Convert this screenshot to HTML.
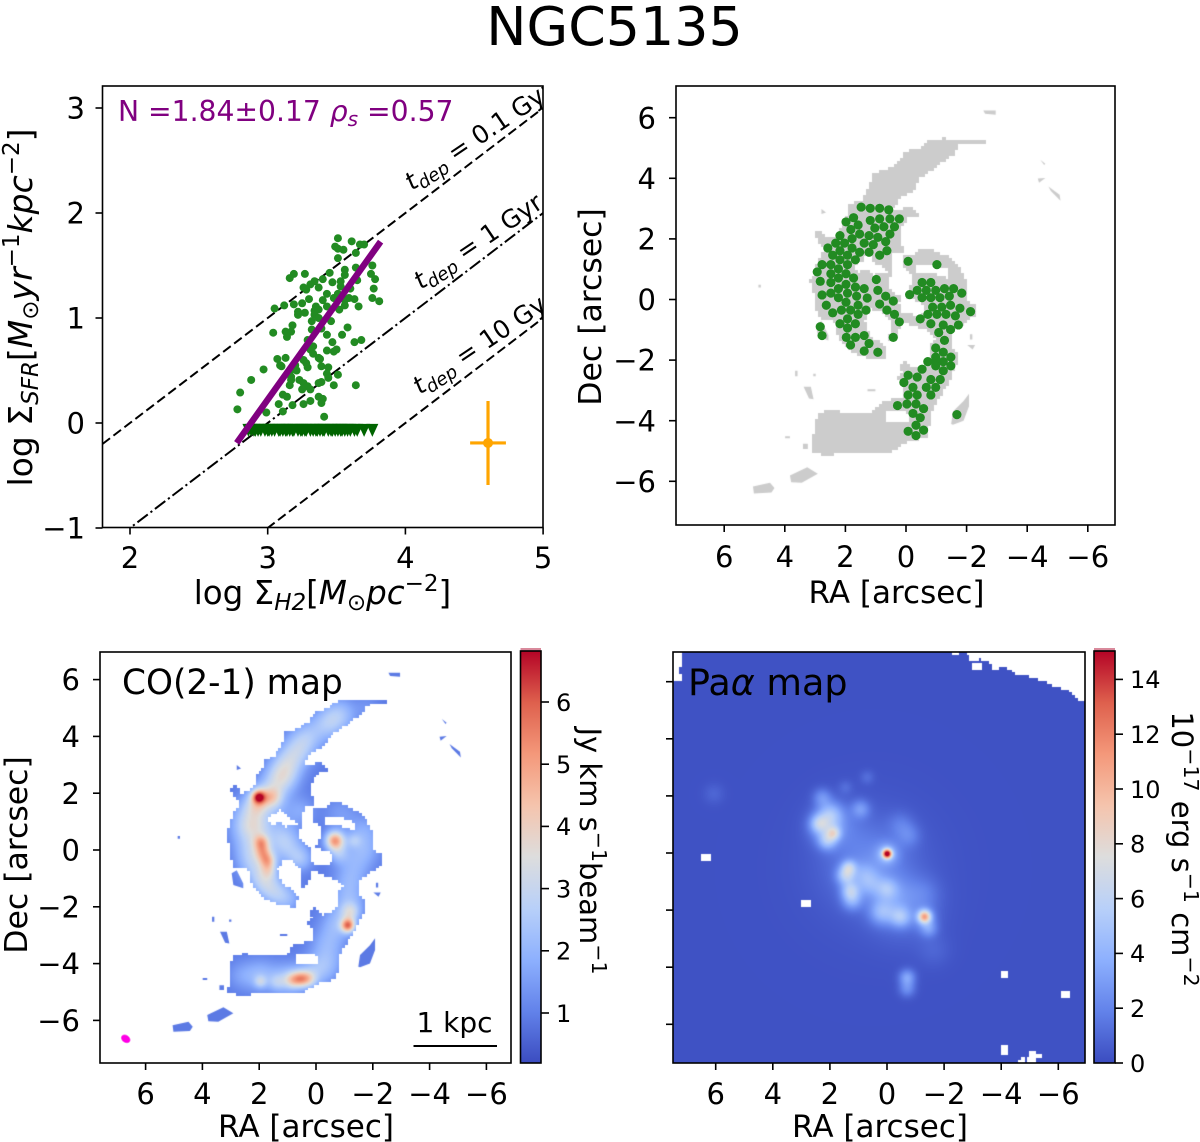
<!DOCTYPE html>
<html lang="en">
<head>
<meta charset="utf-8">
<title>NGC5135</title>
<style>
html,body{margin:0;padding:0;background:#fff}
#page{position:relative;width:1200px;height:1142px;overflow:hidden;background:#fff;font-family:"DejaVu Sans","Liberation Sans",sans-serif}
canvas{position:absolute;display:block}
svg{position:absolute;left:0;top:0}
text{font-family:"DejaVu Sans","Liberation Sans",sans-serif;fill:#000}
</style>
</head>
<body>
<div id="page">
<canvas id="maskCanvas" style="left:676px;top:86px" width="439" height="439"></canvas>
<canvas id="coCanvas" style="left:100px;top:652px" width="411" height="411"></canvas>
<canvas id="paCanvas" style="left:673px;top:652px" width="412" height="411"></canvas>
<svg id="fig" width="1200" height="1142" viewBox="0 0 1200 1142">
<defs>
<clipPath id="clipKS"><rect x="102.5" y="86" width="440.5" height="441.5"/></clipPath>
<linearGradient id="cbGrad1" x1="0" y1="1" x2="0" y2="0"></linearGradient>
</defs>
<text x="614.5" y="45" font-size="53.8" text-anchor="middle">NGC5135</text>
<g id="ksLines" clip-path="url(#clipKS)"></g>
<g id="ksLabels" clip-path="url(#clipKS)" font-size="25">
<text transform="translate(412,191) rotate(-34)"><tspan font-style="italic">t</tspan><tspan dy="5" font-size="18" font-style="italic">dep</tspan><tspan dy="-5"> = 0.1 Gyr</tspan></text>
<text transform="translate(421,290) rotate(-34)"><tspan font-style="italic">t</tspan><tspan dy="5" font-size="18" font-style="italic">dep</tspan><tspan dy="-5"> = 1 Gyr</tspan></text>
<text transform="translate(420,395) rotate(-34)"><tspan font-style="italic">t</tspan><tspan dy="5" font-size="18" font-style="italic">dep</tspan><tspan dy="-5"> = 10 Gyr</tspan></text>
</g>
<g id="ksPoints"></g>
<g id="ksLimits"></g>
<g id="ksFit"></g>
<g id="ksErr"></g>
<text x="118" y="121" font-size="28.2" style="fill:#800080">N =1.84±0.17 <tspan font-style="italic" style="fill:#800080">ρ</tspan><tspan dy="5" font-size="20" font-style="italic" style="fill:#800080">s</tspan><tspan dy="-5" style="fill:#800080"> =0.57</tspan></text>
<g id="skyPoints"></g>
<g id="frames"></g>
<g id="ticks"></g>

<text x="322.5" y="604" font-size="32.5" text-anchor="middle">log Σ<tspan dy="6" font-size="23" font-style="italic">H2</tspan><tspan dy="-6">[</tspan><tspan font-style="italic">M</tspan><tspan dy="6" font-size="23">⊙</tspan><tspan dy="-6" font-style="italic">pc</tspan><tspan dy="-13" font-size="23">−2</tspan><tspan dy="13">]</tspan></text>
<text transform="translate(32,307.5) rotate(-90)" font-size="33" text-anchor="middle">log Σ<tspan dy="6" font-size="23" font-style="italic">SFR</tspan><tspan dy="-6">[</tspan><tspan font-style="italic">M</tspan><tspan dy="6" font-size="23">⊙</tspan><tspan dy="-6" font-style="italic">yr</tspan><tspan dy="-13" font-size="23">−1</tspan><tspan dy="13" font-style="italic">kpc</tspan><tspan dy="-13" font-size="23">−2</tspan><tspan dy="13">]</tspan></text>
<text x="896.5" y="603" font-size="31" text-anchor="middle">RA [arcsec]</text>
<text transform="translate(601,307) rotate(-90)" font-size="31.5" text-anchor="middle">Dec [arcsec]</text>
<text x="306" y="1137" font-size="31" text-anchor="middle">RA [arcsec]</text>
<text transform="translate(27,855) rotate(-90)" font-size="31.5" text-anchor="middle">Dec [arcsec]</text>
<text x="880" y="1137" font-size="31" text-anchor="middle">RA [arcsec]</text>

<text x="122" y="694" font-size="34.3">CO(2-1) map</text>
<text x="688" y="695" font-size="36.5">Pa<tspan font-style="italic">α</tspan> map</text>
<text x="454.5" y="1032" font-size="28" text-anchor="middle">1 kpc</text>
<line x1="413.5" y1="1046" x2="497" y2="1046" stroke="#000" stroke-width="2"/>
<g id="beam"></g>

<rect x="520.5" y="648" width="20.5" height="3" fill="#d98a9c"/>
<rect x="1094" y="648" width="21" height="3" fill="#d98a9c"/>
<rect x="520.5" y="651" width="20.5" height="412" fill="url(#cbGrad1)" stroke="#000" stroke-width="1.6"/>
<rect x="1094" y="651" width="21" height="412" fill="url(#cbGrad1)" stroke="#000" stroke-width="1.6"/>
<text transform="translate(580,851) rotate(90)" font-size="29" text-anchor="middle">Jy km s<tspan dy="-12" font-size="20.5">−1</tspan><tspan dy="12">beam</tspan><tspan dy="-12" font-size="20.5">−1</tspan></text>
<text transform="translate(1172,849) rotate(90)" font-size="29" text-anchor="middle">10<tspan dy="-12" font-size="20.5">−17</tspan><tspan dy="12"> erg s</tspan><tspan dy="-12" font-size="20.5">−1</tspan><tspan dy="12"> cm</tspan><tspan dy="-12" font-size="20.5">−2</tspan></text>
</svg>
</div>

<script>
/* ---------- Kennicutt-Schmidt panel data ---------- */
const ksLogH2 = [3.51,3.61,3.67,3.70,3.49,3.51,3.55,3.64,3.51,3.76,3.64,3.56,3.56,3.45,3.27,3.19,3.16,3.75,3.78,3.40,3.47,3.53,3.65,3.34,3.31,3.26,3.28,3.37,3.53,3.60,3.77,3.43,3.40,3.30,3.25,3.19,3.12,3.05,3.76,3.81,3.63,3.59,3.56,3.48,3.51,3.66,3.56,3.52,3.43,3.35,3.34,3.37,3.27,3.22,3.22,3.34,3.37,3.32,3.46,3.18,3.32,3.39,3.58,3.04,3.13,3.17,3.14,3.43,3.54,3.47,3.63,3.68,3.29,3.33,3.31,3.43,3.48,3.50,3.07,3.13,3.33,3.37,3.38,3.26,3.28,3.09,3.10,3.20,3.21,3.29,3.39,3.44,2.97,3.43,3.16,3.17,3.51,3.44,2.88,3.17,3.23,3.26,3.16,3.37,3.39,3.48,3.64,3.29,3.25,3.31,2.80,3.11,3.14,3.37,3.40,3.31,3.26,3.18,3.08,3.39,2.78,3.11,2.99,3.41];
const ksLogSFR = [1.76,1.73,1.70,1.70,1.68,1.66,1.65,1.62,1.57,1.50,1.48,1.46,1.41,1.43,1.42,1.42,1.38,1.42,1.37,1.37,1.34,1.35,1.36,1.35,1.32,1.29,1.27,1.29,1.30,1.28,1.28,1.23,1.17,1.18,1.14,1.13,1.12,1.09,1.19,1.16,1.18,1.19,1.17,1.19,1.23,1.11,1.12,1.08,1.11,1.11,1.07,1.08,1.05,1.06,1.03,1.03,1.00,0.97,0.97,0.93,0.89,0.90,0.91,0.86,0.87,0.87,0.82,0.84,0.84,0.77,0.77,0.79,0.79,0.73,0.70,0.69,0.68,0.70,0.61,0.62,0.66,0.62,0.61,0.60,0.57,0.55,0.54,0.55,0.50,0.53,0.54,0.53,0.51,0.47,0.49,0.44,0.46,0.43,0.41,0.41,0.41,0.38,0.36,0.38,0.39,0.36,0.36,0.35,0.32,0.32,0.29,0.27,0.25,0.25,0.23,0.21,0.18,0.17,0.18,0.19,0.13,0.11,0.10,0.06];
const limitLogH2 = [2.86,2.88,2.90,2.91,2.93,2.95,2.98,3.00,3.01,3.03,3.05,3.08,3.09,3.11,3.13,3.14,3.16,3.18,3.19,3.22,3.24,3.25,3.27,3.28,3.31,3.33,3.35,3.36,3.38,3.40,3.41,3.44,3.46,3.47,3.49,3.51,3.53,3.54,3.56,3.58,3.60,3.63,3.65,3.70,3.76];
const limitLevel = -0.07;
const fitLogH2 = [2.775,3.82];
const fitLogSFR = [-0.19,1.727];
const depletionOffsets = [-2,-3,-4];
const depletionDash = ["dash","dashdot","dash"];
const errorCentre = [4.6,-0.19];
const errorSize = [0.13,0.40];
const ksXTicks = [2,3,4,5];
const ksYTicks = [3,2,1,0,-1];

/* ---------- Sky positions of regions (RA, Dec offsets, arcsec) ---------- */
const skyRA = [1.48,1.18,.87,.57,1.98,1.73,1.58,1.18,.87,.53,.22,1.82,1.03,.73,.38,2.18,1.53,1.22,.53,1.78,.93,.67,2.32,2.03,1.38,1.08,2.58,2.18,1.78,1.53,1.22,.63,.87,2.42,1.93,2.18,1.67,-.07,-1.02,2.77,2.48,1.93,2.23,2.93,2.48,1.98,2.23,1.73,.98,2.83,2.48,1.98,-.53,-.82,2.23,1.67,1.38,.93,-.37,-.67,-.98,-1.27,-1.57,-1.84,2.77,2.48,1.93,2.23,1.63,1.28,.67,-.12,-.53,-.82,-1.12,-1.43,.42,2.63,1.98,1.58,.87,-.88,-1.18,-1.47,-1.78,2.13,1.83,1.32,.63,-2.13,2.42,1.58,.38,-.72,-1.02,-1.32,-1.63,1.93,-.47,2.18,1.67,.22,-.82,-1.23,-1.73,2.83,1.93,-1.47,-1.08,2.77,1.97,1.67,1.38,.42,-1.27,1.83,1.22,-.98,1.38,.93,-1.23,-.98,-1.48,-.72,-.98,-1.23,-.98,-1.48,-.53,-1.23,-.07,-.37,-.82,-1.13,.07,-.23,-.67,-.98,-.07,-.37,-.82,.28,-.03,-.33,-.58,-.23,-.47,-1.68,-.33,-.07,-.58,-.33];
const skyDec = [3.05,3.01,3.01,2.96,2.56,2.70,2.46,2.61,2.66,2.66,2.66,2.31,2.36,2.40,2.40,2.11,2.16,2.11,2.16,2.01,2.05,1.91,1.86,1.86,1.86,1.81,1.70,1.61,1.70,1.56,1.56,1.61,1.46,1.46,1.46,1.31,1.31,1.26,1.15,1.15,1.15,1.15,1.01,.91,.85,.85,.71,.71,.66,.60,.56,.50,.56,.56,.36,.41,.36,.30,.30,.30,.30,.36,.36,.21,.15,.21,.21,.06,.11,.05,.11,.16,.06,.06,.06,.11,-.05,-.19,-.09,-.19,-.15,-.25,-.25,-.19,-.29,-.35,-.35,-.35,-.35,-.40,-.44,-.49,-.49,-.49,-.49,-.49,-.54,-.64,-.64,-.80,-.80,-.74,-.80,-.84,-.84,-.90,-.94,-.99,-1.09,-1.19,-1.25,-1.25,-1.19,-1.25,-1.35,-1.50,-1.45,-1.60,-1.70,-1.74,-1.74,-1.90,-1.90,-2.05,-2.04,-2.05,-2.19,-2.19,-2.30,-2.35,-2.50,-2.56,-2.64,-2.64,-2.74,-2.90,-2.90,-2.90,-3.15,-3.15,-3.15,-3.50,-3.45,-3.45,-3.60,-3.76,-3.90,-3.80,-4.15,-4.35,-4.31,-4.49];

const raTicks = [6,4,2,0,-2,-4,-6];
const decTicks = [6,4,2,0,-2,-4,-6];
const coBarTicks = [1,2,3,4,5,6];
const paBarTicks = [0,2,4,6,8,10,12,14];

/* ---------- Molecular-gas mask, [RA, Dec] vertices in arcsec ---------- */
const gasOutline = [[-2.61,5.19],[-2.26,5.28],[-1.67,5.28],[-1.20,5.30],[-.67,5.19],[-.49,4.95],[.03,4.87],[.21,4.52],[.68,4.22],[1.09,4.17],[1.15,3.81],[1.44,3.29],[1.85,3.11],[1.85,2.87],[2.09,2.64],[2.15,2.29],[2.38,2.05],[2.68,1.99],[2.85,2.29],[2.97,2.17],[2.91,1.94],[2.68,1.64],[2.91,1.23],[3.03,.76],[3.15,.59],[3.03,.18],[2.91,-.59],[2.38,-.65],[2.21,-1.29],[1.68,-1.76],[1.21,-1.94],[.68,-2.0],[.64,-1.59],[1.15,-1.23],[1.38,-.70],[1.15,-.29],[.80,-.35],[.50,-.65],[.56,-1.35],[.33,-1.23],[.15,-.70],[-.67,-1.0],[-.99,-1.29],[-.79,-1.47],[-.79,-1.94],[-.61,-2.23],[-.2,-2.29],[.03,-2.05],[.21,-2.17],[.09,-2.41],[.29,-2.58],[.09,-2.82],[.09,-3.23],[.80,-3.35],[1.03,-3.70],[1.85,-3.76],[2.50,-3.66],[2.85,-3.76],[3.03,-4.05],[3.05,-4.82],[3.09,-4.99],[2.56,-5.17],[2.26,-5.05],[.56,-5.05],[-.02,-4.70],[-.73,-4.52],[-.79,-3.76],[-1.08,-3.23],[-1.43,-2.70],[-1.73,-2.00],[-1.73,-1.88],[-1.49,-1.53],[-1.49,-1.06],[-2.26,-.53],[-2.26,-.18],[-2.02,-.06],[-1.96,.65],[-1.73,1.06],[-1.37,1.41],[-.73,1.67],[-.53,1.67],[-.26,1.43],[.09,1.43],[.09,1.64],[.21,1.99],[.13,2.52],[.15,2.40],[-.02,2.70],[-.44,2.79],[-.20,3.05],[.50,2.93],[.21,3.40],[-.26,3.64],[-.44,3.99],[-1.02,4.40],[-1.61,4.81],[-1.73,5.10]];
const gasHoles = [
 [[1.68,1.06],[1.62,1.23],[1.38,1.29],[1.33,1.43],[1.09,1.41],[1.03,1.17],[.68,1.06],[.60,.82],[.91,.88],[1.03,.76],[1.27,.94],[1.62,.88]],
 [[.48,1.06],[.44,1.58],[.13,1.58],[.13,1.06],[-.26,.80],[-.14,.35],[.03,.09],[-.55,-.09],[-.58,-.41],[-.49,-.53],[.21,-.47],[.25,-.06],[.13,.06],[.39,.18],[.64,.41],[.62,.64],[.48,.82]],
 [[-.29,1.17],[-.85,1.15],[-1.43,.98],[-1.40,.67],[-.91,.82],[-.32,.88]],
 [[.74,-3.64],[-.02,-3.64],[-.14,-4.05],[.68,-4.05]]
];
const gasIslands = [
 [[2.97,-.82],[2.79,-.71],[2.56,-1.18],[2.56,-1.35],[2.91,-1.23]],
 [[-1.49,-4.11],[-1.55,-3.70],[-1.90,-3.35],[-2.08,-3.11],[-2.08,-3.52],[-1.90,-4.00],[-1.55,-4.13]],
 [[5.05,-6.17],[4.49,-6.05],[4.34,-6.22],[4.44,-6.37],[5.02,-6.40]],
 [[3.83,-5.81],[3.26,-5.54],[2.91,-5.75],[3.44,-6.05],[3.79,-6.03]],
 [[3.38,-2.88],[3.14,-2.88],[3.05,-3.29],[3.2,-3.27]],
 [[-4.35,3.99],[-4.60,4.01],[-4.39,3.85]],
 [[-4.70,3.73],[-5.07,3.46],[-5.10,3.26],[-4.78,3.58]],
 [[-2.55,6.24],[-2.96,6.24],[-2.96,6.10],[-2.61,6.13]],
 [[-4.43,4.61],[-4.60,4.48],[-4.56,4.44]],
 [[2.79,2.99],[2.64,2.87],[2.79,2.82]],
 [[-2.02,-1.50],[-2.28,-1.50],[-2.2,-1.65]],
 [[-2.11,-1.15],[-2.19,-1.15],[-2.19,-1.32],[-2.11,-1.32]],
 [[1.27,-2.96],[1.01,-2.96],[1.01,-3.03],[1.27,-3.03]],
 [[3.99,-4.51],[3.83,-4.51],[3.83,-4.58],[3.99,-4.58]],
 [[3.40,-4.76],[3.24,-4.76],[3.24,-4.93],[3.40,-4.93]],
 [[4.87,.49],[4.79,.49],[4.79,.40],[4.87,.40]],
 [[3.66,-2.35],[3.58,-2.35],[3.58,-2.53],[3.66,-2.53]],
 [[3.06,-2.45],[2.98,-2.45],[2.98,-2.53],[3.06,-2.53]]
];

/* ---------- CO(2-1) emission components: [RA, Dec, peak, sigma] ---------- */
const coBase = 0.9;
const coComponents = [
 [-1.79,5.05,.4,.3],[-.85,4.81,1.2,.4],[-.38,4.46,1.3,.4],[.33,3.99,1.2,.4],[.68,3.52,1.3,.4],[1.03,3.05,1.3,.4],[1.21,2.58,1.6,.4],[1.5,2.23,1,.4],
 [2.32,1.41,1.3,.4],[2.56,.82,1,.4],[2.32,.12,1.2,.4],[2.09,.82,1.4,.35],[2.2,-.47,1.3,.4],[1.85,-1.06,1.6,.35],[1.5,-1.47,1.2,.35],[1.03,-1.70,1,.35],
 [1.03,.11,1.2,.4],[.56,-.3,1.2,.3],[1.27,.58,1,.4],[.56,1.4,.8,.35],[1.5,1.53,.8,.35],
 [-.85,1.29,.6,.4],[-1.67,.70,.8,.4],[-1.67,0,.9,.4],[-1.32,-.59,.7,.4],[-1.14,-1.18,.8,.4],[-1.14,-1.88,1,.4],[-.73,-2.59,1.1,.4],[-.38,-3.29,.9,.4],[-.38,-4,.9,.4],[.09,-4.29,1,.4],[1.03,-4.52,1.2,.4],[1.97,-4.40,1.1,.4],[2.67,-4.40,.6,.35],
 [2.03,1.88,3.6,.16],[2.0,1.88,1.6,.3],[1.55,1.88,1.5,.24],[2.09,1.5,.8,.25],
 [1.94,.29,2.3,.19],[1.88,-.05,2.0,.2],[1.72,-.36,2.4,.2],[1.68,-.71,1.2,.2],
 [-.65,.35,4.0,.23],[-.79,-.12,1.2,.25],[-1.32,.35,.9,.18],
 [-1.11,-2.64,4.0,.17],[-1.2,-2.17,1.5,.22],
 [.56,-4.52,2.5,.2],[.86,-4.56,1.7,.2],[.27,-4.52,1.7,.2],[1.97,-4.62,1.2,.15],[1.38,-4.64,.9,.2]
];

/* ---------- Pa-alpha emission components: [RA, Dec, peak, sigma] ---------- */
const paBase = 0.2;
const paComponents = [
 [.01,-.01,12,.11],[.01,-.01,3,.26],[1.88,.71,4,.17],[2.4,1.04,3.5,.22],[2.11,.45,3.4,.22],[2,1.38,3,.3],[2.15,.95,2.2,.4],[1.35,-.48,3.6,.18],[1.47,-.77,4,.22],[1.3,-1.3,3.8,.22],[1.24,-1.65,2.6,.24],
 [.19,-2.06,3,.3],[-.46,-2.23,3.5,.25],[-1.3,-2.21,8.2,.16],[-1.3,-2.3,1.5,.3],[-1.45,-2.64,2,.2],[.01,-1.24,2.4,.25],[.59,-1.07,2,.32],[.83,-.72,1.5,.3],[-.3,-1.5,1.2,.45],[-.69,-4.34,3,.2],[-.69,-4.75,2,.2],
 [.94,1.56,2.2,.22],[2.29,1.97,2,.22],[.71,2.67,.9,.17],[1.47,2.32,.8,.17],[6.08,2.09,.7,.25],[-.75,.63,1.3,.28],[-.46,1.04,1.0,.3],
 [.59,-.37,1.6,1.0],[1.76,1.03,1,.6],[-.58,-2,1,.8],[.5,-.5,.4,1.6],[-1.28,-1.42,1,.4],[-1.63,-3.4,.6,.4]
];
const paBlankRegions = [
 [[-2.77,7.05],[-2.97,6.70],[-3.26,6.82],[-3.61,6.70],[-3.79,6.35],[-4.02,6.58],[-4.55,6.29],[-5.25,6.12],[-5.83,5.88],[-6.47,5.65],[-6.77,5.30],[-7,5.30],[-7,7.11]],
 [[-2.35,7.02],[-2.53,7.02],[-2.53,6.93],[-2.35,6.93]],
 [[-3.03,6.67],[-3.29,6.67],[-3.29,6.41],[-3.03,6.41]],
 [[6.47,-.01],[6.20,-.01],[6.20,-.27],[6.47,-.27]],
 [[2.96,-1.65],[2.69,-1.65],[2.69,-1.88],[2.96,-1.88]],
 [[-3.96,-4.14],[-4.23,-4.14],[-4.23,-4.37],[-3.96,-4.37]],
 [[-6.12,-4.89],[-6.38,-4.89],[-6.38,-5.06],[-6.12,-5.06]],
 [[-3.96,-6.79],[-4.23,-6.79],[-4.23,-7.02],[-3.96,-7.02]],
 [[-4.55,-7.37],[-4.78,-7.14],[-4.84,-7.37]],
 [[-4.90,-7.37],[-5.01,-6.96],[-5.42,-7.05],[-5.42,-7.20],[-5.19,-7.20],[-5.19,-7.37]],
 [[7.45,7.02],[7.23,7.02],[7.23,6.53],[7.34,6.53],[7.34,6.27],[7.23,6.27],[7.23,6.08],[7.45,6.08]]
];
const beamCentre = [6.7,-6.65];
const coRange = [0.2,6.8];
const paRange = [0,15];
const mapCellArcsec = 0.1;

/* ---------- axis functions ---------- */
const ksX = v => 130 + (v - 2) * 137.7;
const ksY = v => 423 - v * 105;
const skyX = v => 906 - v * 30.3;
const skyY = v => 299.5 - v * 30.3;
const coX = v => 316 - v * 28.4;
const coY = v => 850 - v * 28.4;
const paX = v => 887 - v * 28.55;
const paY = v => 853 - v * 28.55;
const coBarY = v => 1013 - (v - 1) * 62.2;
const paBarY = v => 1063 - v * 27.4;

const NS = 'http://www.w3.org/2000/svg';
function svgEl(tag, parent, attrs) {
  const el = document.createElementNS(NS, tag);
  for (const k in attrs) el.setAttribute(k, attrs[k]);
  parent.appendChild(el);
  return el;
}

/* coolwarm colormap */
const cmapStops = [[59,76,192],[98,130,234],[141,176,254],[184,208,249],[221,221,221],[245,196,173],[244,152,122],[222,96,77],[180,4,38]];
function coolwarm(t) {
  t = Math.max(0, Math.min(1, t)) * 8;
  const i = Math.min(7, Math.floor(t)), f = t - i, a = cmapStops[i], b = cmapStops[i + 1];
  return [a[0] + (b[0] - a[0]) * f, a[1] + (b[1] - a[1]) * f, a[2] + (b[2] - a[2]) * f];
}

/* depletion-time lines */
const ksLines = document.getElementById('ksLines');
depletionOffsets.forEach((off, i) => {
  const el = svgEl('line', ksLines, {x1: ksX(1.8), y1: ksY(1.8 + off), x2: ksX(5), y2: ksY(5 + off), stroke: '#000', 'stroke-width': 2, 'stroke-dasharray': depletionDash[i] === 'dash' ? '9.5 4.3' : '13 3.4 2.2 3.4'});
  
  
});

/* detections */
const ksPoints = document.getElementById('ksPoints');
ksLogH2.forEach((x, i) => {
  const el = svgEl('circle', ksPoints, {cx: ksX(x), cy: ksY(ksLogSFR[i]), r: 4, fill: '#228b22'});
  
  
});

/* upper limits */
const ksLimits = document.getElementById('ksLimits');
limitLogH2.forEach(x => {
  const px = ksX(x), py = ksY(limitLevel);
  const el = svgEl('polygon', ksLimits, {points: (px - 6) + ',' + (py - 6.5) + ' ' + (px + 6) + ',' + (py - 6.5) + ' ' + px + ',' + (py + 6.5), fill: '#006400'});
  
  
});

/* fit line */
const fitLine = svgEl('line', document.getElementById('ksFit'), {x1: ksX(fitLogH2[0]), y1: ksY(fitLogSFR[0]), x2: ksX(fitLogH2[1]), y2: ksY(fitLogSFR[1]), stroke: '#800080', 'stroke-width': 6.4});



/* typical error */
const ksErr = document.getElementById('ksErr');
const errV = svgEl('line', ksErr, {x1: ksX(errorCentre[0]), y1: ksY(errorCentre[1] + errorSize[1]), x2: ksX(errorCentre[0]), y2: ksY(errorCentre[1] - errorSize[1]), stroke: '#ffa500', 'stroke-width': 3.2});


const errH = svgEl('line', ksErr, {x1: ksX(errorCentre[0] - errorSize[0]), y1: ksY(errorCentre[1]), x2: ksX(errorCentre[0] + errorSize[0]), y2: ksY(errorCentre[1]), stroke: '#ffa500', 'stroke-width': 3.2});


const errC = svgEl('circle', ksErr, {cx: ksX(errorCentre[0]), cy: ksY(errorCentre[1]), r: 5, fill: '#ffa500'});



/* sky points */
const skyPoints = document.getElementById('skyPoints');
skyRA.forEach((ra, i) => {
  const el = svgEl('circle', skyPoints, {cx: skyX(ra), cy: skyY(skyDec[i]), r: 4.6, fill: '#228b22'});
  
  
});

/* beam */
const beam = svgEl('ellipse', document.getElementById('beam'), {cx: coX(beamCentre[0]), cy: coY(beamCentre[1]), rx: 4.8, ry: 3.6, fill: '#ff00e6', stroke: '#ff70f0', 'stroke-width': .8, transform: 'rotate(35 ' + coX(beamCentre[0]) + ' ' + coY(beamCentre[1]) + ')'});



/* frames */
const frames = document.getElementById('frames');
[[102.5,86,440.5,441.5],[676,86,439,439],[100,652,411,411],[673,652,412,411]].forEach(r => {
  const el = svgEl('rect', frames, {x: r[0], y: r[1], width: r[2], height: r[3], fill: 'none', stroke: '#000', 'stroke-width': 1.6});
  
  
});

/* ticks and tick labels */
const tickG = document.getElementById('ticks');
const fmt = v => (v < 0 ? '\u2212' + (-v) : String(v));
function xTicks(vals, X, yBase, baseline, size) {
  vals.forEach(v => {
    const t = svgEl('line', tickG, {x1: X(v), x2: X(v), y1: yBase, y2: yBase + 7, stroke: '#000', 'stroke-width': 1.6});
    
    
    const l = svgEl('text', tickG, {x: X(v), y: baseline, 'font-size': size, 'text-anchor': 'middle'});
    l.textContent = fmt(v);
    
    
  });
}
function yTicks(vals, Y, xBase, anchorX, size, showLabels) {
  vals.forEach(v => {
    const t = svgEl('line', tickG, {x1: xBase - 7, x2: xBase, y1: Y(v), y2: Y(v), stroke: '#000', 'stroke-width': 1.6});
    
    
    if (showLabels) {
      const l = svgEl('text', tickG, {x: anchorX, y: Y(v) + size * 0.365, 'font-size': size, 'text-anchor': 'end'});
      l.textContent = fmt(v);
      
      
    }
  });
}
function barTicks(vals, Y, xBase, size) {
  vals.forEach(v => {
    const t = svgEl('line', tickG, {x1: xBase, x2: xBase + 8, y1: Y(v), y2: Y(v), stroke: '#000', 'stroke-width': 1.6});
    
    
    const l = svgEl('text', tickG, {x: xBase + 15, y: Y(v) + size * 0.365, 'font-size': size});
    l.textContent = fmt(v);
    
    
  });
}
xTicks(ksXTicks, ksX, 527.5, 568, 29);
yTicks(ksYTicks, ksY, 102.5, 85, 29, true);
xTicks(raTicks, skyX, 525, 567, 29);
yTicks(decTicks, skyY, 676, 656, 29, true);
xTicks(raTicks, coX, 1063, 1104, 29);
yTicks(decTicks, coY, 100, 80, 29, true);
xTicks(raTicks, paX, 1063, 1104, 29);
yTicks(decTicks, paY, 673, 0, 29, false);
barTicks(coBarTicks, coBarY, 541, 24);
barTicks(paBarTicks, paBarY, 1115, 24);

/* colorbar gradient */
const grad = document.getElementById('cbGrad1');
for (let i = 0; i <= 8; i++) {
  const c = cmapStops[i];
  svgEl('stop', grad, {offset: (i / 8), 'stop-color': 'rgb(' + c.join(',') + ')'});
}

/* maps */
function polysPath(polys, X, Y, ox, oy) {
  const p2 = new Path2D();
  polys.forEach(p => {
    p.forEach((v, i) => {
      const px = X(v[0]) - ox, py = Y(v[1]) - oy;
      if (i === 0) p2.moveTo(px, py); else p2.lineTo(px, py);
    });
    p2.closePath();
  });
  return p2;
}
/* fill the map cells whose centre falls inside the polygons */
function fillCells(ctx, path, w, h, step) {
  for (let y = 0; y < h; y += step) for (let x = 0; x < w; x += step) {
    if (ctx.isPointInPath(path, x + step / 2, y + step / 2, 'evenodd')) {
      const x0 = Math.floor(x), y0 = Math.floor(y);
      ctx.fillRect(x0, y0, Math.ceil(x + step) - x0, Math.ceil(y + step) - y0);
    }
  }
}
function renderField(canvas, X, Y, ox, oy, base, comps, range) {
  const w = canvas.width, h = canvas.height;
  const off = document.createElement('canvas');
  off.width = w; off.height = h;
  const octx = off.getContext('2d');
  const img = octx.createImageData(w, h);
  const xs = comps.map(c => X(c[0]) - ox), ys = comps.map(c => Y(c[1]) - oy);
  const scale = Math.abs(X(1) - X(0));
  const ss = comps.map(c => 2 * (c[3] * scale) * (c[3] * scale));
  for (let j = 0; j < h; j++) for (let i = 0; i < w; i++) {
    let v = base;
    for (let k = 0; k < comps.length; k++) {
      const dx = i - xs[k], dy = j - ys[k], d = (dx * dx + dy * dy) / ss[k];
      if (d < 16) v += comps[k][2] * Math.exp(-d);
    }
    const c = coolwarm((v - range[0]) / (range[1] - range[0]));
    const o = (j * w + i) * 4;
    img.data[o] = c[0]; img.data[o + 1] = c[1]; img.data[o + 2] = c[2]; img.data[o + 3] = 255;
  }
  octx.putImageData(img, 0, 0);
  return off;
}
const mainGas = [gasOutline].concat(gasHoles);

/* grey mask panel */
const maskCanvas = document.getElementById('maskCanvas');
const mctx = maskCanvas.getContext('2d');
mctx.fillStyle = '#cccccc';
fillCells(mctx, polysPath(mainGas, skyX, skyY, 676, 86), maskCanvas.width, maskCanvas.height, mapCellArcsec * 30.3);
mctx.fill(polysPath(gasIslands, skyX, skyY, 676, 86));

/* CO panel */
const coCanvas = document.getElementById('coCanvas');
const cctx = coCanvas.getContext('2d');
const coField = renderField(coCanvas, coX, coY, 100, 652, coBase, coComponents, coRange);
const coMask = document.createElement('canvas');
coMask.width = coCanvas.width; coMask.height = coCanvas.height;
const cmctx = coMask.getContext('2d');
cmctx.fillStyle = '#000';
fillCells(cmctx, polysPath(mainGas, coX, coY, 100, 652), coMask.width, coMask.height, mapCellArcsec * 28.4);
cmctx.fill(polysPath(gasIslands, coX, coY, 100, 652));
cctx.drawImage(coField, 0, 0);
cctx.globalCompositeOperation = 'destination-in';
cctx.drawImage(coMask, 0, 0);
cctx.globalCompositeOperation = 'source-over';

/* Pa-alpha panel */
const paCanvas = document.getElementById('paCanvas');
const pctx = paCanvas.getContext('2d');
pctx.drawImage(renderField(paCanvas, paX, paY, 673, 652, paBase, paComponents, paRange), 0, 0);
pctx.fillStyle = '#fff';
fillCells(pctx, polysPath(paBlankRegions, paX, paY, 673, 652), paCanvas.width, paCanvas.height, mapCellArcsec * 2 * 28.55 / 2);
</script>
</body>
</html>
